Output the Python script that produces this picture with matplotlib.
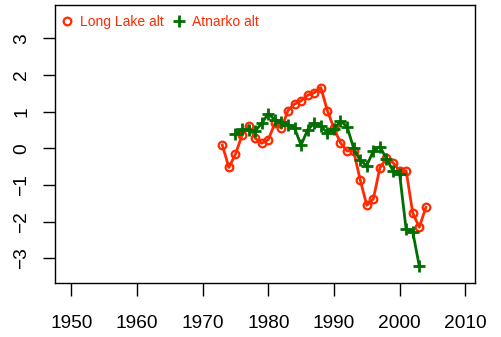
import matplotlib.pyplot as plt
from matplotlib.lines import Line2D

plt.rcParams['font.family'] = ['Liberation Sans', 'DejaVu Sans']

# Long Lake alt (red circles)
long_years = list(range(1973, 2005))
long_vals = [0.09, -0.52, -0.16, 0.36, 0.62, 0.28, 0.14, 0.24, 0.68, 0.55,
             1.03, 1.21, 1.30, 1.45, 1.52, 1.66, 1.03, 0.55, 0.15, -0.07,
             -0.07, -0.86, -1.55, -1.38, -0.53, -0.27, -0.39, -0.61, -0.61,
             -1.76, -2.15, -1.61]

# Atnarko alt (green crosses)
atn_years = list(range(1975, 2004))
atn_vals = [0.39, 0.52, 0.50, 0.48, 0.68, 0.95, 0.78, 0.72, 0.64, 0.55,
            0.09, 0.51, 0.69, 0.60, 0.43, 0.52, 0.75, 0.59, 0.01, -0.33,
            -0.47, -0.07, 0.05, -0.28, -0.61, -0.69, -2.21, -2.27, -3.21]

xticks = [1950, 1960, 1970, 1980, 1990, 2000, 2010]
yticks = [-3, -2, -1, 0, 1, 2, 3]

red = '#ff2a00'
green = '#006e00'

fig = plt.figure(figsize=(5.01, 3.37), dpi=100)
ax = fig.add_axes([0.1104, 0.1593, 0.8376, 0.8257])

ax.plot(long_years, long_vals, '-', color=red, lw=2, marker='o',
        ms=5.5, mfc='none', mew=1.6)
ax.plot(atn_years, atn_vals, '-', color=green, lw=2, marker='+',
        ms=8.5, mew=2)

ax.set_xlim(1947.56, 2011.48)
ax.set_ylim(-3.68, 3.91)
ax.set_xticks(xticks)
ax.set_yticks(yticks)
ax.tick_params(length=9, width=1, labelsize=13.8)
ax.tick_params(axis='x', pad=14)
ax.tick_params(axis='y', pad=9, labelrotation=90)
for lab in ax.get_yticklabels():
    lab.set_va('center')
for s in ax.spines.values():
    s.set_linewidth(1)

handles = [Line2D([], [], ls='none', marker='o', color=red, mfc='none', ms=5.5, mew=1.6),
           Line2D([], [], ls='none', marker='+', color=green, ms=8.5, mew=2)]
ax.legend(handles, ['Long Lake alt', 'Atnarko alt'], loc='upper left',
          bbox_to_anchor=(-0.01, 1.0), ncol=2, frameon=False, fontsize=10,
          labelcolor=red, handlelength=0.9, handletextpad=0.5,
          columnspacing=0.6, borderaxespad=0.3)

fig.savefig('out.png', dpi=100)
